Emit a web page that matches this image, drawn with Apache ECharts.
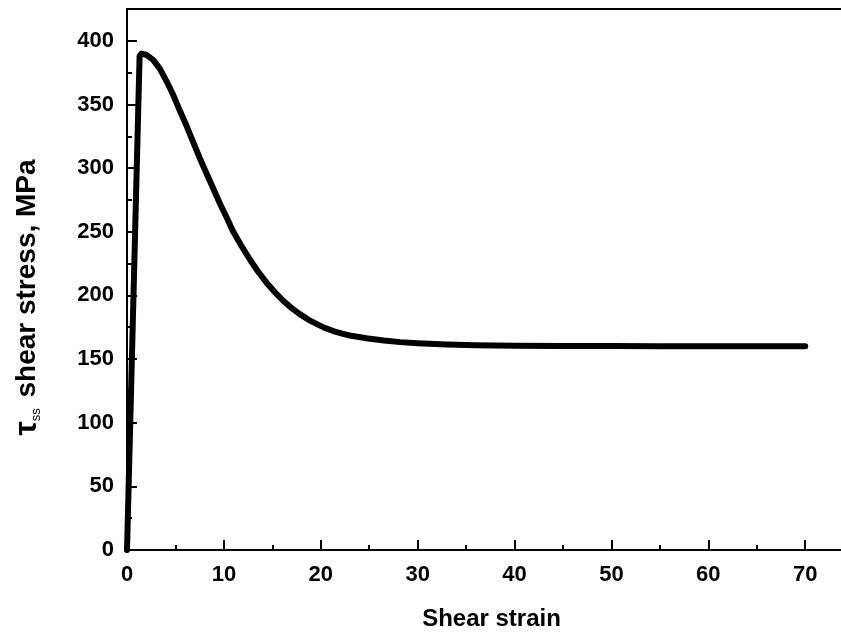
<!DOCTYPE html>
<html>
<head>
<meta charset="utf-8">
<script src="https://cdn.jsdelivr.net/npm/echarts@6/dist/echarts.min.js"></script>
<style>
html,body{margin:0;padding:0;background:#fff;}
#chart{width:841px;height:632px;}
</style>
</head>
<body>
<div id="chart"></div>
<script>
// Shear strain (x) and shear stress (MPa, y)
var strain = [0, 1.3, 1.5, 2.0, 2.7, 3.4, 4.1, 4.8, 5.4, 6.1, 6.8, 7.5, 8.2, 8.9, 9.6, 10.3, 10.9, 11.8, 12.7, 13.5, 14.4, 15.2, 16.1, 17.0, 17.8, 18.7, 19.6, 20.4, 21.3, 22.2, 23, 24.7, 26.5, 28.2, 30, 33, 36, 40, 45, 50, 55, 60, 65, 70];
var stress = [0, 388, 390, 389, 385, 378, 368, 357, 346, 334, 321, 308, 296, 284, 272, 261, 251, 239, 228, 219, 210, 203, 196, 190, 185.5, 181, 177.5, 174.5, 172, 170, 168.5, 166.3, 164.6, 163.3, 162.4, 161.4, 160.9, 160.5, 160.3, 160.2, 160.1, 160, 160, 160];
var xTitle = 'Shear strain';
var yTitle = '{tau|τ}{sub|ss}{txt| shear stress, MPa}';

var data = strain.map(function (x, i) { return [x, stress[i]]; });
var font = 'Liberation Sans, Arial, sans-serif';
var chart = echarts.init(document.getElementById('chart'), null, {renderer: 'canvas'});
chart.setOption({
  animation: false,
  backgroundColor: '#fff',
  grid: {left: 127, top: 9, height: 541, width: 717, outerBoundsMode: 'none', containLabel: false, show: true, borderColor: '#000', borderWidth: 2, backgroundColor: 'transparent'},
  xAxis: {
    type: 'value', min: 0, max: 74, interval: 10,
    name: xTitle, nameLocation: 'middle', nameGap: 57,
    nameTextStyle: {fontFamily: font, fontWeight: 'bold', fontSize: 24, color: '#000', padding: [0, 0, 0, 12]},
    axisLine: {show: true, onZero: false, lineStyle: {color: '#000', width: 2}},
    axisTick: {show: true, inside: true, length: 10, lineStyle: {color: '#000', width: 2}},
    minorTick: {show: true, splitNumber: 2, length: 5, lineStyle: {color: '#000', width: 2}},
    axisLabel: {fontFamily: font, fontWeight: 'bold', fontSize: 22, color: '#000', margin: 14, showMaxLabel: false},
    splitLine: {show: false}
  },
  yAxis: {
    type: 'value', min: 0, max: 425, interval: 50,
    name: yTitle, nameLocation: 'middle', nameGap: 84, nameRotate: 90,
    nameTextStyle: {
      fontFamily: font, fontWeight: 'bold', fontSize: 28, color: '#000',
      padding: [0, 36, 0, 0],
      rich: {
        tau: {fontFamily: font, fontWeight: 'bold', fontSize: 32, color: '#000'},
        sub: {fontFamily: font, fontWeight: 'normal', fontSize: 13, color: '#000', verticalAlign: 'bottom', padding: [16, 3, 0, 0]},
        txt: {fontFamily: font, fontWeight: 'bold', fontSize: 28, color: '#000'}
      }
    },
    axisLine: {show: true, onZero: false, lineStyle: {color: '#000', width: 2}},
    axisTick: {show: true, inside: true, length: 10, lineStyle: {color: '#000', width: 2}},
    minorTick: {show: true, splitNumber: 2, length: 5, lineStyle: {color: '#000', width: 2}},
    axisLabel: {fontFamily: font, fontWeight: 'bold', fontSize: 22, color: '#000', margin: 13, showMaxLabel: false},
    splitLine: {show: false}
  },
  series: [{
    type: 'line',
    data: data,
    showSymbol: false,
    smooth: false,
    lineStyle: {color: '#000', width: 6, cap: 'round', join: 'round'},
    clip: false
  }]
});
</script>
</body>
</html>
